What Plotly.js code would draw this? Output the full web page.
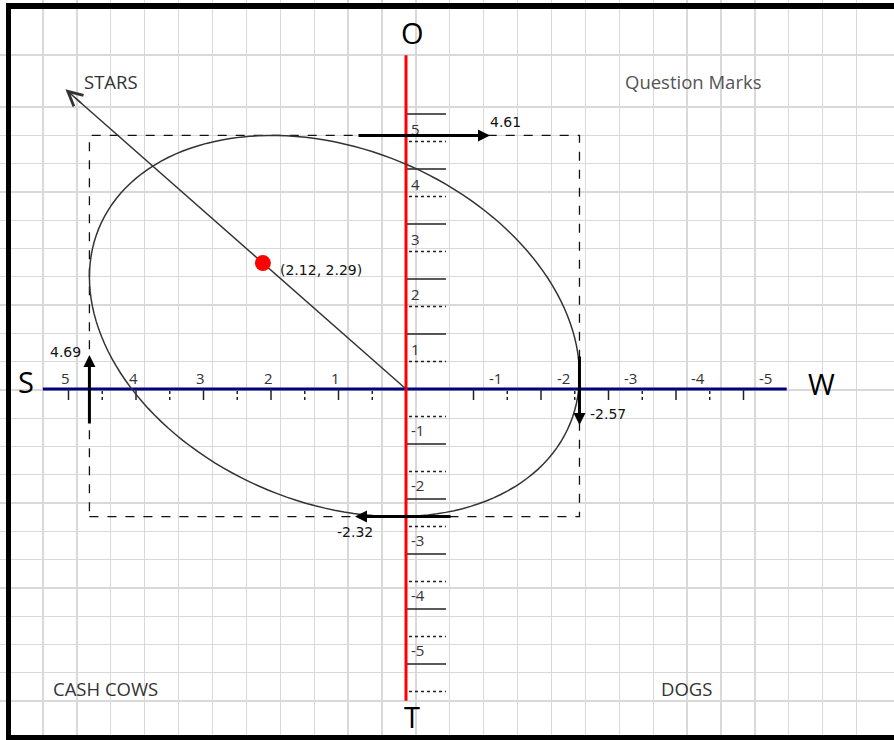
<!DOCTYPE html>
<html><head><meta charset="utf-8">
<script src="https://cdn.plot.ly/plotly-3.0.1.min.js"></script>
<style>html,body{margin:0;padding:0;background:#fff;}#chart{width:894px;height:740px;}</style>
</head><body><div id="chart"></div>
<script>
// ---------------- data ----------------
const quadrantLabels = ["STARS", "Question Marks", "CASH COWS", "DOGS"];
const axisLetters = ["S", "W", "O", "T"];
const xTickValues = [5, 4, 3, 2, 1, -1, -2, -3, -4, -5];
const xTickLabels = ["5", "4", "3", "2", "1", "-1", "-2", "-3", "-4", "-5"];
const xMinorTicks = [4.5, 3.5, 2.5, 1.5, 0.5, -1.5, -2.5, -3.5, -4.5];
const yTickValues = [5, 4, 3, 2, 1, -1, -2, -3, -4, -5];
const yTickLabels = ["5", "4", "3", "2", "1", "-1", "-2", "-3", "-4", "-5"];
const yMinorTicks = [4.5, 3.5, 2.5, 1.5, 0.5, -0.5, -1.5, -2.5, -3.5, -4.5, -5.5];
const extentNames = ["S", "W", "O", "T"];
const extentValues = [4.69, -2.57, 4.61, -2.32];
const resultX = [2.12];
const resultY = [2.29];

// ---------------- geometry / style ----------------
const W = 894, H = 740;
const ORIGIN = [406, 389];       // pixel position of (0,0)
const PX_X = 67.5, PX_Y = 55;    // pixels per unit
const xRange = [ORIGIN[0] / PX_X, -(W - ORIGIN[0]) / PX_X];   // x grows to the left (S side)
const yRange = [-(H - ORIGIN[1]) / PX_Y, ORIGIN[1] / PX_Y];
const px = v => v / W, py = v => 1 - v / H;
const S = extentValues[0], Wk = extentValues[1], O = extentValues[2], T = extentValues[3];
const TILT = 0.26, STARS_EXTEND = 2.38;
const labelFont = {family: "Open Sans, sans-serif", size: 15, color: "#333"};
const numFont = {family: "DejaVu Sans, sans-serif", size: 14, color: "#111"};

// grid (style only): pixel-space overlay axes
const gridX = [], gridY = [55];
for (let g = 43; g < 880; g += 33.9) gridX.push(g);
for (let g = 107; g < 705; g += 28.29) gridY.push(g);

const shapes = [];
const B = "between";
// blue S-W axis
shapes.push({type: "line", layer: B, xref: "x", yref: "y", x0: 5.38, x1: -5.64, y0: 0, y1: 0,
  line: {color: "#00007f", width: 3}});
// x ticks
xTickValues.forEach(v => shapes.push({type: "line", layer: B, xref: "x", yref: "y", ysizemode: "pixel", yanchor: 0,
  x0: v, x1: v, y0: 0, y1: -11, line: {color: "#222", width: 1.5}}));
xMinorTicks.forEach(v => shapes.push({type: "line", layer: B, xref: "x", yref: "y", ysizemode: "pixel", yanchor: 0,
  x0: v, x1: v, y0: -2, y1: -11, line: {color: "#222", width: 1.5, dash: "dot"}}));
// y ticks
yTickValues.forEach(v => shapes.push({type: "line", layer: B, xref: "x", yref: "y", xsizemode: "pixel", xanchor: 0,
  x0: 0, x1: 40, y0: v, y1: v, line: {color: "#222", width: 1.3}}));
yMinorTicks.forEach(v => shapes.push({type: "line", layer: B, xref: "x", yref: "y", xsizemode: "pixel", xanchor: 0,
  x0: 3, x1: 40, y0: v, y1: v, line: {color: "#222", width: 1.5, dash: "dot"}}));
// red O-T axis
shapes.push({type: "line", layer: B, xref: "x", yref: "y", x0: 0, x1: 0, y0: -5.67, y1: 6.07,
  line: {color: "#ff0000", width: 3}});
// dashed bounding rectangle
shapes.push({type: "rect", layer: B, xref: "x", yref: "y", x0: S, x1: Wk, y0: T, y1: O,
  line: {color: "#111", width: 1.3, dash: "dash"}});
// tilted ellipse inscribed in the rectangle
const cx = (S + Wk) / 2, cy = (O + T) / 2, hw = (S - Wk) / 2, hh = (O - T) / 2;
let path = "";
for (let i = 0; i <= 160; i++) {
  const t = 2 * Math.PI * i / 160;
  path += (i ? "L" : "M") + (cx + hw * Math.cos(t)).toFixed(4) + "," + (cy + hh * Math.sin(t + TILT)).toFixed(4);
}
shapes.push({type: "path", layer: B, xref: "x", yref: "y", path: path + "Z", line: {color: "#333", width: 1.5}});
// frame
shapes.push({type: "line", layer: "above", xref: "paper", yref: "paper", x0: px(6), x1: 1, y0: py(6), y1: py(6), line: {color: "#000", width: 6}});
shapes.push({type: "line", layer: "above", xref: "paper", yref: "paper", x0: px(8.5), x1: px(8.5), y0: py(3), y1: 0, line: {color: "#000", width: 5}});
shapes.push({type: "line", layer: "above", xref: "paper", yref: "paper", x0: px(6), x1: 1, y0: py(738), y1: py(738), line: {color: "#000", width: 6}});

const ann = [];
// tick labels
xTickValues.forEach((v, i) => ann.push({xref: "x", yref: "y", x: v, y: 0, text: xTickLabels[i], showarrow: false,
  xanchor: "center", yanchor: "middle", xshift: v > 0 ? -3 : 22, yshift: 11, font: labelFont}));
yTickValues.forEach((v, i) => ann.push({xref: "x", yref: "y", x: 0, y: v, text: yTickLabels[i], showarrow: false,
  xanchor: "left", yanchor: "middle", xshift: 3, yshift: v > 0 ? -15 : 14, font: labelFont}));
// extent arrows (head in data, tail offset in pixels)
const arrowStyle = {showarrow: true, arrowhead: 2, arrowsize: 0.8, arrowwidth: 3, arrowcolor: "#000", text: "", axref: "pixel", ayref: "pixel", standoff: 0};
ann.push(Object.assign({xref: "x", yref: "y", x: -84 / PX_X, y: O, ax: -133, ay: 0}, arrowStyle));
ann.push(Object.assign({xref: "x", yref: "y", x: 51 / PX_X, y: T, ax: 97, ay: 0}, arrowStyle));
ann.push(Object.assign({xref: "x", yref: "y", x: S, y: 34 / PX_Y, ax: 0, ay: 70}, arrowStyle));
ann.push(Object.assign({xref: "x", yref: "y", x: Wk, y: -36 / PX_Y, ax: 0, ay: -70}, arrowStyle));
// extent values
ann.push({xref: "x", yref: "y", x: -84 / PX_X, y: O, text: O.toFixed(2), showarrow: false, xanchor: "left", yanchor: "bottom", xshift: -2, yshift: 3, font: numFont});
ann.push({xref: "x", yref: "y", x: 51 / PX_X, y: T, text: T.toFixed(2), showarrow: false, xanchor: "center", yanchor: "top", yshift: -5, font: numFont});
ann.push({xref: "x", yref: "y", x: S, y: 34 / PX_Y, text: S.toFixed(2), showarrow: false, xanchor: "right", yanchor: "middle", xshift: -6, yshift: 3, font: numFont});
ann.push({xref: "x", yref: "y", x: Wk, y: -36 / PX_Y, text: Wk.toFixed(2), showarrow: false, xanchor: "left", yanchor: "middle", xshift: 9, yshift: 11, font: numFont});
// STARS arrowhead
const tipX = resultX[0] * STARS_EXTEND, tipY = resultY[0] * STARS_EXTEND;
ann.push({xref: "x", yref: "y", x: tipX, y: tipY, axref: "x", ayref: "y", ax: tipX * 0.95, ay: tipY * 0.95, text: "",
  showarrow: true, arrowhead: 5, arrowsize: 1.9, arrowwidth: 1.5, arrowcolor: "#333", standoff: 0});
// result point label
ann.push({xref: "x", yref: "y", x: resultX[0], y: resultY[0], text: "(" + resultX[0].toFixed(2) + ", " + resultY[0].toFixed(2) + ")",
  showarrow: false, xanchor: "left", yanchor: "middle", xshift: 15, yshift: -7, font: numFont});
// quadrant labels
const qPos = [[111, 82], [693, 82], [105, 688], [686, 688]];
const qCol = ["#333", "#555", "#333", "#333"];
quadrantLabels.forEach((t, i) => ann.push({xref: "paper", yref: "paper", x: px(qPos[i][0]), y: py(qPos[i][1]), text: t, showarrow: false,
  xanchor: "center", yanchor: "middle", font: {family: "Open Sans, sans-serif", size: 18.5, color: qCol[i]}}));
// axis letters
const lPos = [[26, 382], [821, 383], [412, 33], [412, 716]];
axisLetters.forEach((t, i) => ann.push({xref: "paper", yref: "paper", x: px(lPos[i][0]), y: py(lPos[i][1]), text: t, showarrow: false,
  xanchor: "center", yanchor: "middle", font: {family: "Open Sans, sans-serif", size: 29, color: "#000"}}));

const traces = [
  {type: "scatter", x: [], y: [], xaxis: "x2", yaxis: "y2", hoverinfo: "skip"},
  {type: "scatter", mode: "lines", x: [0, tipX * 0.97], y: [0, tipY * 0.97], line: {color: "#333", width: 1.5}, hoverinfo: "skip"},
  {type: "scatter", mode: "markers", x: resultX, y: resultY, marker: {color: "#ff0000", size: 16}, hoverinfo: "skip"}
];

const layout = {
  width: W, height: H, margin: {l: 0, r: 0, t: 0, b: 0, pad: 0},
  paper_bgcolor: "#fff", plot_bgcolor: "rgba(0,0,0,0)", showlegend: false,
  xaxis: {range: xRange, showgrid: false, zeroline: false, showticklabels: false, ticks: "", showline: false},
  yaxis: {range: yRange, showgrid: false, zeroline: false, showticklabels: false, ticks: "", showline: false},
  xaxis2: {overlaying: "x", range: [0, W], tickmode: "array", tickvals: gridX, showgrid: true, gridcolor: "#d9d9d9", gridwidth: 1.3,
    zeroline: false, showticklabels: false, ticks: "", showline: false},
  yaxis2: {overlaying: "y", range: [H, 0], tickmode: "array", tickvals: gridY, showgrid: true, gridcolor: "#d9d9d9", gridwidth: 1.3,
    zeroline: false, showticklabels: false, ticks: "", showline: false},
  shapes: shapes, annotations: ann
};
Plotly.newPlot("chart", traces, layout, {displayModeBar: false, staticPlot: true});
</script></body></html>
